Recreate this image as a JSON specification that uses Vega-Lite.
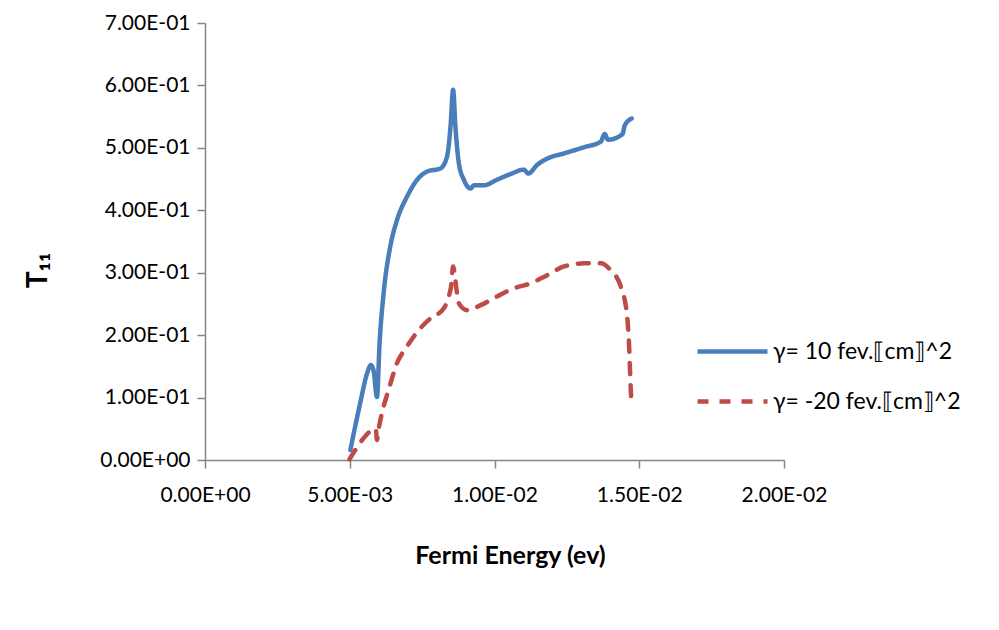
{
  "$schema": "https://vega.github.io/schema/vega-lite/v6.json",
  "width": 579,
  "height": 437,
  "autosize": {"type": "none"},
  "padding": {"left": 205, "top": 23, "right": 215, "bottom": 170},
  "background": "white",
  "config": {
    "view": {"stroke": null},
    "font": "Lato",
    "axis": {
      "grid": false,
      "domainColor": "#868686",
      "domainWidth": 1.5,
      "tickColor": "#868686",
      "tickWidth": 1.5,
      "tickSize": 8,
      "labelFont": "Lato",
      "labelFontSize": 21,
      "labelColor": "#000000",
      "labelFlush": false,
      "titleFont": "Lato",
      "titleColor": "#000000",
      "titleFontWeight": "bold"
    }
  },
  "data": {
    "values": [
      {"x": 0.00502, "T": 0.016, "series": "γ= 10 fev.⟦cm⟧^2"},
      {"x": 0.00536, "T": 0.091, "series": "γ= 10 fev.⟦cm⟧^2"},
      {"x": 0.00560, "T": 0.139, "series": "γ= 10 fev.⟦cm⟧^2"},
      {"x": 0.00573, "T": 0.152, "series": "γ= 10 fev.⟦cm⟧^2"},
      {"x": 0.00582, "T": 0.144, "series": "γ= 10 fev.⟦cm⟧^2"},
      {"x": 0.00594, "T": 0.101, "series": "γ= 10 fev.⟦cm⟧^2"},
      {"x": 0.00603, "T": 0.187, "series": "γ= 10 fev.⟦cm⟧^2"},
      {"x": 0.00617, "T": 0.267, "series": "γ= 10 fev.⟦cm⟧^2"},
      {"x": 0.00640, "T": 0.342, "series": "γ= 10 fev.⟦cm⟧^2"},
      {"x": 0.00663, "T": 0.384, "series": "γ= 10 fev.⟦cm⟧^2"},
      {"x": 0.00698, "T": 0.422, "series": "γ= 10 fev.⟦cm⟧^2"},
      {"x": 0.00733, "T": 0.449, "series": "γ= 10 fev.⟦cm⟧^2"},
      {"x": 0.00767, "T": 0.462, "series": "γ= 10 fev.⟦cm⟧^2"},
      {"x": 0.00813, "T": 0.467, "series": "γ= 10 fev.⟦cm⟧^2"},
      {"x": 0.00836, "T": 0.486, "series": "γ= 10 fev.⟦cm⟧^2"},
      {"x": 0.00848, "T": 0.534, "series": "γ= 10 fev.⟦cm⟧^2"},
      {"x": 0.00857, "T": 0.593, "series": "γ= 10 fev.⟦cm⟧^2"},
      {"x": 0.00865, "T": 0.534, "series": "γ= 10 fev.⟦cm⟧^2"},
      {"x": 0.00877, "T": 0.475, "series": "γ= 10 fev.⟦cm⟧^2"},
      {"x": 0.00894, "T": 0.449, "series": "γ= 10 fev.⟦cm⟧^2"},
      {"x": 0.00917, "T": 0.435, "series": "γ= 10 fev.⟦cm⟧^2"},
      {"x": 0.00929, "T": 0.440, "series": "γ= 10 fev.⟦cm⟧^2"},
      {"x": 0.00963, "T": 0.440, "series": "γ= 10 fev.⟦cm⟧^2"},
      {"x": 0.01009, "T": 0.449, "series": "γ= 10 fev.⟦cm⟧^2"},
      {"x": 0.01055, "T": 0.458, "series": "γ= 10 fev.⟦cm⟧^2"},
      {"x": 0.01101, "T": 0.465, "series": "γ= 10 fev.⟦cm⟧^2"},
      {"x": 0.01117, "T": 0.459, "series": "γ= 10 fev.⟦cm⟧^2"},
      {"x": 0.01148, "T": 0.473, "series": "γ= 10 fev.⟦cm⟧^2"},
      {"x": 0.01188, "T": 0.484, "series": "γ= 10 fev.⟦cm⟧^2"},
      {"x": 0.01240, "T": 0.491, "series": "γ= 10 fev.⟦cm⟧^2"},
      {"x": 0.01309, "T": 0.501, "series": "γ= 10 fev.⟦cm⟧^2"},
      {"x": 0.01367, "T": 0.510, "series": "γ= 10 fev.⟦cm⟧^2"},
      {"x": 0.01381, "T": 0.522, "series": "γ= 10 fev.⟦cm⟧^2"},
      {"x": 0.01392, "T": 0.513, "series": "γ= 10 fev.⟦cm⟧^2"},
      {"x": 0.01442, "T": 0.522, "series": "γ= 10 fev.⟦cm⟧^2"},
      {"x": 0.01450, "T": 0.536, "series": "γ= 10 fev.⟦cm⟧^2"},
      {"x": 0.01474, "T": 0.547, "series": "γ= 10 fev.⟦cm⟧^2"},
      {"x": 0.00499, "T": 0.001, "series": "γ= -20 fev.⟦cm⟧^2"},
      {"x": 0.00519, "T": 0.016, "series": "γ= -20 fev.⟦cm⟧^2"},
      {"x": 0.00548, "T": 0.035, "series": "γ= -20 fev.⟦cm⟧^2"},
      {"x": 0.00580, "T": 0.049, "series": "γ= -20 fev.⟦cm⟧^2"},
      {"x": 0.00590, "T": 0.050, "series": "γ= -20 fev.⟦cm⟧^2"},
      {"x": 0.00594, "T": 0.032, "series": "γ= -20 fev.⟦cm⟧^2"},
      {"x": 0.00600, "T": 0.050, "series": "γ= -20 fev.⟦cm⟧^2"},
      {"x": 0.00611, "T": 0.075, "series": "γ= -20 fev.⟦cm⟧^2"},
      {"x": 0.00634, "T": 0.112, "series": "γ= -20 fev.⟦cm⟧^2"},
      {"x": 0.00663, "T": 0.155, "series": "γ= -20 fev.⟦cm⟧^2"},
      {"x": 0.00698, "T": 0.182, "series": "γ= -20 fev.⟦cm⟧^2"},
      {"x": 0.00738, "T": 0.208, "series": "γ= -20 fev.⟦cm⟧^2"},
      {"x": 0.00779, "T": 0.227, "series": "γ= -20 fev.⟦cm⟧^2"},
      {"x": 0.00825, "T": 0.243, "series": "γ= -20 fev.⟦cm⟧^2"},
      {"x": 0.00842, "T": 0.262, "series": "γ= -20 fev.⟦cm⟧^2"},
      {"x": 0.00850, "T": 0.278, "series": "γ= -20 fev.⟦cm⟧^2"},
      {"x": 0.00857, "T": 0.310, "series": "γ= -20 fev.⟦cm⟧^2"},
      {"x": 0.00865, "T": 0.288, "series": "γ= -20 fev.⟦cm⟧^2"},
      {"x": 0.00869, "T": 0.272, "series": "γ= -20 fev.⟦cm⟧^2"},
      {"x": 0.00877, "T": 0.251, "series": "γ= -20 fev.⟦cm⟧^2"},
      {"x": 0.00906, "T": 0.240, "series": "γ= -20 fev.⟦cm⟧^2"},
      {"x": 0.00952, "T": 0.248, "series": "γ= -20 fev.⟦cm⟧^2"},
      {"x": 0.01009, "T": 0.262, "series": "γ= -20 fev.⟦cm⟧^2"},
      {"x": 0.01067, "T": 0.275, "series": "γ= -20 fev.⟦cm⟧^2"},
      {"x": 0.01125, "T": 0.283, "series": "γ= -20 fev.⟦cm⟧^2"},
      {"x": 0.01182, "T": 0.296, "series": "γ= -20 fev.⟦cm⟧^2"},
      {"x": 0.01240, "T": 0.310, "series": "γ= -20 fev.⟦cm⟧^2"},
      {"x": 0.01309, "T": 0.315, "series": "γ= -20 fev.⟦cm⟧^2"},
      {"x": 0.01367, "T": 0.315, "series": "γ= -20 fev.⟦cm⟧^2"},
      {"x": 0.01401, "T": 0.304, "series": "γ= -20 fev.⟦cm⟧^2"},
      {"x": 0.01436, "T": 0.278, "series": "γ= -20 fev.⟦cm⟧^2"},
      {"x": 0.01457, "T": 0.235, "series": "γ= -20 fev.⟦cm⟧^2"},
      {"x": 0.01465, "T": 0.182, "series": "γ= -20 fev.⟦cm⟧^2"},
      {"x": 0.01469, "T": 0.133, "series": "γ= -20 fev.⟦cm⟧^2"},
      {"x": 0.01473, "T": 0.088, "series": "γ= -20 fev.⟦cm⟧^2"}
    ]
  },
  "mark": {"type": "line", "strokeWidth": 4.5, "strokeCap": "round", "strokeJoin": "round", "interpolate": "monotone"},
  "encoding": {
    "x": {
      "field": "x",
      "type": "quantitative",
      "scale": {"domain": [0, 0.02], "nice": false, "zero": false},
      "axis": {
        "values": [0, 0.005, 0.01, 0.015, 0.02],
        "title": "Fermi Energy (ev)",
        "titleFontSize": 25,
        "titleX": 305,
        "titleY": 95,
        "titleAlign": "center",
        "titleBaseline": "middle",
        "labelPadding": 16,
        "labelExpr": "datum.value == 0 ? '0.00E+00' : (datum.value < 0.0099 ? format(datum.value * 1000, '.2f') + 'E-03' : format(datum.value * 100, '.2f') + 'E-02')"
      }
    },
    "y": {
      "field": "T",
      "type": "quantitative",
      "scale": {"domain": [0, 0.7], "nice": false},
      "axis": {
        "values": [0, 0.1, 0.2, 0.3, 0.4, 0.5, 0.6, 0.7],
        "title": "T₁₁",
        "titleFontSize": 28,
        "titleX": -167,
        "titleY": 247,
        "titleAngle": -90,
        "titleAlign": "center",
        "titleBaseline": "middle",
        "labelPadding": 7,
        "labelExpr": "datum.value == 0 ? '0.00E+00' : format(datum.value * 10, '.2f') + 'E-01'"
      }
    },
    "color": {
      "field": "series",
      "type": "nominal",
      "scale": {"domain": ["γ= 10 fev.⟦cm⟧^2", "γ= -20 fev.⟦cm⟧^2"], "range": ["#4A7EBB", "#BE4B48"]},
      "legend": {
        "title": null,
        "orient": "none",
        "legendX": 490,
        "legendY": 291,
        "symbolType": "stroke",
        "symbolSize": 4900,
        "symbolStrokeWidth": 4.5,
        "labelFont": "Lato",
        "labelFontSize": 23,
        "labelColor": "#000000",
        "labelLimit": 400,
        "labelOffset": 3,
        "rowPadding": -2
      }
    },
    "strokeDash": {
      "field": "series",
      "type": "nominal",
      "scale": {"domain": ["γ= 10 fev.⟦cm⟧^2", "γ= -20 fev.⟦cm⟧^2"], "range": [[1, 0], [11, 11]]},
      "legend": {
        "title": null,
        "orient": "none",
        "legendX": 490,
        "legendY": 291,
        "symbolType": "stroke",
        "symbolSize": 4900,
        "symbolStrokeWidth": 4.5,
        "labelFont": "Lato",
        "labelFontSize": 23,
        "labelColor": "#000000",
        "labelLimit": 400,
        "labelOffset": 3,
        "rowPadding": -2
      }
    }
  }
}
